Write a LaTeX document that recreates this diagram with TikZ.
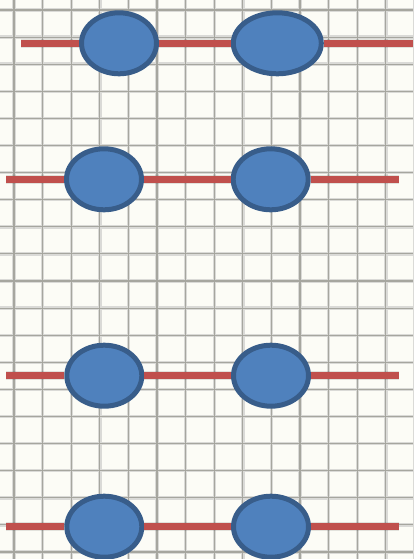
\documentclass[tikz,border=0pt]{standalone}
\usepackage{xcolor}
\definecolor{paperBg}{RGB}{252,252,246}
\definecolor{gridGray}{RGB}{150,150,142}
\definecolor{wireRed}{RGB}{192,80,77}
\definecolor{beadFill}{RGB}{79,129,189}
\definecolor{beadDraw}{RGB}{56,93,138}
\usepackage{tikz}
\usetikzlibrary{
    shapes.geometric,
    positioning
}

\begin{document}
\begin{tikzpicture}[
    x=1pt, y=-1pt,
    gridHalo/.style={
        draw=gridGray!35, line width=3.4pt
    },
    gridLine/.style={
        draw=gridGray!85, line width=1.1pt
    },
    wire/.style={
        draw=wireRed, line width=7.5pt
    },
    wireShadow/.style={
        draw=black, opacity=0.10, line width=9pt, yshift=-2.5pt
    },
    bead/.style={
        ellipse,
        draw=beadDraw, line width=5pt,
        fill=beadFill,
        minimum width=75pt, minimum height=61pt,
        inner sep=0pt
    },
    wideBead/.style={
        bead, minimum width=88pt
    }
]

    % Paper
    \fill[paperBg] (0,0) rectangle (413,559);
    \useasboundingbox (0,0) rectangle (413,559);

    % Squared grid
    \foreach \gx in {0,...,14} {
        \draw[gridHalo] ({14+28.6*\gx},0) -- ++(0,559);
    }
    \foreach \gy in {0,...,20} {
        \draw[gridHalo] (0,{10+27.1*\gy}) -- ++(413,0);
    }
    \foreach \gx in {0,...,14} {
        \draw[gridLine] ({14+28.6*\gx},0) -- ++(0,559);
    }
    \foreach \gy in {0,...,20} {
        \draw[gridLine] (0,{10+27.1*\gy}) -- ++(413,0);
    }

    % Row 1
    \node[bead] (a1) at (119,43.3) {};
    \node[wideBead] (b1) at (277.3,43.3) {};
    \coordinate (w1) at (21,43.3);
    \coordinate (e1) at (413,43.3);

    % Row 2
    \node[bead] (a2) at (104,179.3) {};
    \node[bead] (b2) at (270.7,179.3) {};
    \coordinate (w2) at (6,179.3);
    \coordinate (e2) at (399,179.3);

    % Row 3
    \node[bead] (a3) at (104.3,375.7) {};
    \node[bead] (b3) at (271,375.7) {};
    \coordinate (w3) at (6,375.7);
    \coordinate (e3) at (399,375.7);

    % Row 4
    \node[bead] (a4) at (104.3,526.7) {};
    \node[bead] (b4) at (271,526.7) {};
    \coordinate (w4) at (6,526.7);
    \coordinate (e4) at (399,526.7);

    % Wires between beads
    \foreach \r in {1,...,4} {
        \draw[wireShadow] (w\r) -- (a\r);
        \draw[wireShadow] (a\r) -- (b\r);
        \draw[wireShadow] (b\r) -- (e\r);
        \draw[wire] (w\r) -- (a\r);
        \draw[wire] (a\r) -- (b\r);
        \draw[wire] (b\r) -- (e\r);
    }

\end{tikzpicture}
\end{document}
